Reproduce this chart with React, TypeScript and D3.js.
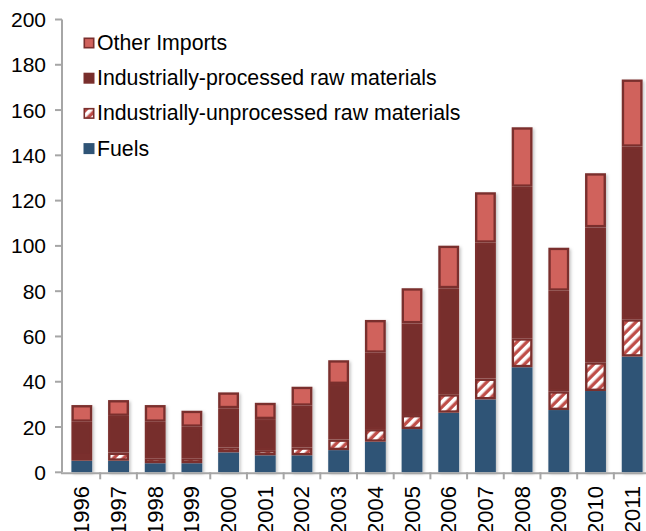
import React from "react";
import * as d3 from "d3";

const years = ["1996","1997","1998","1999","2000","2001","2002","2003","2004","2005","2006","2007","2008","2009","2010","2011"];
const fuels = [5.1,5.1,4.0,4.0,8.8,7.5,7.5,9.8,13.5,19.1,26.3,32.2,46.4,27.5,35.9,51.1];
const unprocessed = [2.1,3.6,2.2,2.2,2.2,2.3,3.5,4.7,5.6,6.2,8.2,9.2,12.8,8.3,12.7,16.5];
const processed = [15.1,16.2,16.1,13.9,17.3,13.7,18.4,24.5,33.7,40.5,46.8,60.0,66.9,44.4,59.6,76.2];
const otherImports = [7.4,7.0,7.4,7.1,7.0,7.2,8.4,10.5,14.5,15.5,18.8,22.3,26.3,19.0,23.9,29.7];
const yTicks = [0,20,40,60,80,100,120,140,160,180,200];
const seriesNames = ["Fuels","Industrially-unprocessed raw materials","Industrially-processed raw materials","Other Imports"];
const legendOrder = ["Other Imports","Industrially-processed raw materials","Industrially-unprocessed raw materials","Fuels"];

const COL = {
  fuel: "#2F5476",
  dark: "#772E2C",
  border: "#7A2F2D",
  other: "#D0625C",
  stripe: "#BF4E49",
};

export default function App() {
  const W = 646, H = 531;
  const x0 = 63.5, step = 36.69;
  const x = d3.scaleBand<string>().domain(years).range([x0, x0 + step * years.length]).paddingInner(0.43).paddingOuter(0.215);
  const y = d3.scaleLinear().domain([0, 200]).range([472.3, 19.5]);

  const rows = years.map((yr, i) => ({
    year: yr,
    "Fuels": fuels[i],
    "Industrially-unprocessed raw materials": unprocessed[i],
    "Industrially-processed raw materials": processed[i],
    "Other Imports": otherImports[i],
  }));
  const stacked = d3.stack<any>().keys(seriesNames)(rows);
  const font = "'Liberation Sans', Arial, Helvetica, sans-serif";
  const fillFor = (k: string) =>
    k === "Fuels" ? COL.fuel : k === "Other Imports" ? COL.other : k === "Industrially-processed raw materials" ? COL.dark : "url(#stripes)";
  const sw = 2.4;

  return (
    <svg width={W} height={H} style={{ position: "absolute", left: 0, top: 0, background: "#fff" }} fontFamily={font}>
      <defs>
        <pattern id="stripes" patternUnits="userSpaceOnUse" width={7} height={7} patternTransform="rotate(45)">
          <rect x={0} y={0} width={7} height={7} fill={COL.stripe} />
          <rect x={0} y={0} width={3.6} height={7} fill="#fff" />
        </pattern>
        <filter id="shadow" x="-30%" y="-10%" width="160%" height="120%">
          <feDropShadow dx={1.5} dy={1.5} stdDeviation={1.5} floodColor="#000" floodOpacity={0.25} />
        </filter>
      </defs>

      {/* bars */}
      {years.map((yr, i) => {
        const bx = x(yr)!;
        const bw = x.bandwidth();
        const top = y(stacked[3][i][1]);
        return (
          <g key={yr}>
            <rect x={bx} y={top} width={bw} height={y(0) - top} fill="#fff" filter="url(#shadow)" />
            {stacked.map((s) => {
              const d = s[i];
              const y1 = y(d[1]), y0v = y(d[0]);
              const h = y0v - y1;
              if (s.key === "Fuels") {
                return <rect key={s.key} x={bx} y={y1} width={bw} height={h} fill={COL.fuel} />;
              }
              return (
                <rect key={s.key} x={bx + sw / 2} y={y1 + sw / 2} width={bw - sw} height={Math.max(0, h - sw)}
                  fill={fillFor(s.key)} stroke={COL.border} strokeWidth={sw} />
              );
            })}
          </g>
        );
      })}

      {/* y axis */}
      <line x1={62} x2={62} y1={y(200)} y2={y(0)} stroke="#A6A6A6" strokeWidth={2} />
      {yTicks.map((t) => (
        <g key={t}>
          <line x1={55} x2={62} y1={y(t)} y2={y(t)} stroke="#A6A6A6" strokeWidth={2} />
          <text x={46} y={y(t)} textAnchor="end" dominantBaseline="central" fontSize={21} fill="#000">{t}</text>
        </g>
      ))}

      {/* x axis */}
      <line x1={61} x2={W} y1={y(0) + 1} y2={y(0) + 1} stroke="#A6A6A6" strokeWidth={2} />
      {years.map((yr, i) => {
        const tx = x0 + step * (i + 1);
        return <line key={"t" + yr} x1={tx} x2={tx} y1={y(0)} y2={y(0) + 7} stroke="#A6A6A6" strokeWidth={2} />;
      })}
      {years.map((yr) => {
        const cx = x(yr)! + x.bandwidth() / 2;
        return (
          <text key={"l" + yr} transform={`translate(${cx},${486}) rotate(-90)`} textAnchor="end" dominantBaseline="central" fontSize={22} fill="#000">{yr}</text>
        );
      })}

      {/* legend */}
      {legendOrder.map((k, i) => {
        const ly = 43 + i * 35.2;
        return (
          <g key={k}>
            {k === "Fuels" ? (
              <rect x={83.5} y={ly - 5.5} width={11} height={11} fill={COL.fuel} />
            ) : (
              <rect x={84.3} y={ly - 4.7} width={9.4} height={9.4} fill={fillFor(k)} stroke={COL.border} strokeWidth={1.6} />
            )}
            <text x={97} y={ly} dominantBaseline="central" fontSize={21.3} fill="#000">{k}</text>
          </g>
        );
      })}
    </svg>
  );
}
